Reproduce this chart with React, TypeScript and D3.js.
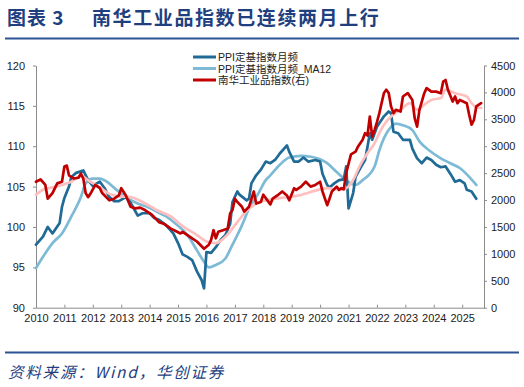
import React, { useEffect, useRef } from "react";
import * as d3 from "d3";

const width = 524;
const height = 387;
const margin = { top: 65.5, right: 40, bottom: 79.3, left: 36 };

// PPI 定基指数月频 (left axis)
const ppiSeries: [string, number][] = [
  ["2010-01", 97.8], ["2010-04", 98.8], ["2010-06", 100.0], ["2010-08", 99.2],
  ["2010-11", 100.5], ["2010-12", 102.5], ["2011-01", 103.6], ["2011-03", 105.0],
  ["2011-04", 106.2], ["2011-06", 106.7], ["2011-09", 107.0], ["2011-11", 105.8],
  ["2012-01", 105.1], ["2012-04", 105.6], ["2012-06", 104.8], ["2012-08", 103.7],
  ["2012-10", 103.2], ["2012-12", 103.2], ["2013-03", 103.7], ["2013-05", 103.0],
  ["2013-08", 101.4], ["2013-10", 101.7], ["2014-01", 101.7], ["2014-03", 101.1],
  ["2014-05", 100.9], ["2014-08", 100.2], ["2014-11", 99.2], ["2015-01", 98.0],
  ["2015-03", 96.6], ["2015-05", 96.3], ["2015-07", 95.9], ["2015-09", 94.5],
  ["2015-11", 93.4], ["2015-12", 92.4], ["2016-01", 96.9], ["2016-03", 96.8],
  ["2016-05", 97.5], ["2016-07", 98.4], ["2016-09", 99.0], ["2016-11", 100.4],
  ["2016-12", 103.1], ["2017-02", 104.4], ["2017-03", 104.0], ["2017-06", 103.3],
  ["2017-07", 103.5], ["2017-08", 105.4], ["2017-10", 106.4], ["2017-12", 107.1],
  ["2018-02", 108.1], ["2018-04", 107.9], ["2018-06", 108.3], ["2018-08", 109.1],
  ["2018-11", 110.1], ["2018-12", 109.3], ["2019-02", 108.1], ["2019-04", 108.1],
  ["2019-06", 108.6], ["2019-08", 108.1], ["2019-11", 108.3], ["2020-01", 108.1],
  ["2020-02", 106.6], ["2020-04", 105.2], ["2020-05", 104.9], ["2020-07", 105.4],
  ["2020-09", 105.8], ["2020-11", 105.9], ["2020-12", 107.5], ["2021-01", 102.3],
  ["2021-03", 104.2], ["2021-04", 106.2], ["2021-06", 107.3], ["2021-08", 108.3],
  ["2021-09", 109.9], ["2021-10", 111.6], ["2021-11", 110.8], ["2022-01", 112.4],
  ["2022-04", 113.7], ["2022-06", 114.3], ["2022-07", 114.1], ["2022-08", 111.8],
  ["2022-10", 111.6], ["2022-12", 110.8], ["2023-03", 110.8], ["2023-04", 109.7],
  ["2023-06", 108.5], ["2023-08", 107.9], ["2023-10", 108.6], ["2023-12", 108.3],
  ["2024-02", 107.7], ["2024-04", 107.4], ["2024-06", 107.5], ["2024-08", 106.6],
  ["2024-10", 105.6], ["2024-12", 105.8], ["2025-02", 105.4], ["2025-03", 104.6],
  ["2025-05", 104.4], ["2025-07", 103.5],
];

// PPI 定基指数月频_MA12 (left axis)
const ppiMa12Series: [string, number][] = [
  ["2010-01", 94.9], ["2010-04", 96.3], ["2010-08", 98.0], ["2010-12", 99.2],
  ["2011-04", 101.3], ["2011-08", 103.7], ["2011-10", 105.4], ["2012-01", 106.0],
  ["2012-04", 106.0], ["2012-07", 105.6], ["2012-11", 104.6], ["2013-03", 103.7],
  ["2013-08", 102.9], ["2013-12", 102.5], ["2014-04", 101.9], ["2014-08", 101.3],
  ["2014-12", 100.4], ["2015-05", 99.0], ["2015-09", 97.1], ["2015-12", 95.7],
  ["2016-02", 95.0], ["2016-05", 95.3], ["2016-09", 96.1], ["2016-12", 97.8],
  ["2017-04", 100.2], ["2017-07", 102.3], ["2017-11", 104.2], ["2018-02", 105.8],
  ["2018-04", 106.4], ["2018-08", 107.7], ["2018-12", 108.6], ["2019-05", 108.8],
  ["2019-09", 108.7], ["2020-01", 108.4], ["2020-04", 107.9], ["2020-08", 106.8],
  ["2020-12", 105.8], ["2021-04", 105.2], ["2021-07", 105.8], ["2021-12", 107.5],
  ["2022-02", 109.5], ["2022-04", 111.0], ["2022-07", 112.4], ["2022-09", 112.8],
  ["2022-12", 112.6], ["2023-04", 112.0], ["2023-07", 110.6], ["2023-11", 109.5],
  ["2024-04", 108.5], ["2024-08", 107.9], ["2024-12", 107.3], ["2025-04", 106.2],
  ["2025-07", 105.2],
];

// 南华工业品指数 (right axis)
const nanhuaSeries: [string, number][] = [
  ["2010-01", 2340], ["2010-03", 2385], ["2010-05", 2280], ["2010-06", 2025],
  ["2010-08", 2130], ["2010-10", 2310], ["2010-12", 2340], ["2011-01", 2625],
  ["2011-02", 2640], ["2011-03", 2460], ["2011-05", 2400], ["2011-07", 2415],
  ["2011-08", 2490], ["2011-09", 2400], ["2011-10", 2130], ["2011-11", 2055],
  ["2011-12", 2115], ["2012-02", 2280], ["2012-04", 2220], ["2012-05", 2130],
  ["2012-08", 1995], ["2012-10", 2025], ["2012-12", 2085], ["2013-01", 2220],
  ["2013-03", 2085], ["2013-05", 1875], ["2013-07", 1845], ["2013-09", 1860],
  ["2013-11", 1815], ["2014-02", 1725], ["2014-05", 1590], ["2014-07", 1560],
  ["2014-10", 1470], ["2014-12", 1425], ["2015-02", 1380], ["2015-03", 1410],
  ["2015-05", 1350], ["2015-07", 1290], ["2015-09", 1230], ["2015-12", 1095],
  ["2016-02", 1170], ["2016-03", 1260], ["2016-04", 1440], ["2016-05", 1290],
  ["2016-06", 1410], ["2016-08", 1440], ["2016-10", 1470], ["2016-11", 1755],
  ["2016-12", 1815], ["2017-01", 2025], ["2017-02", 1965], ["2017-04", 1875],
  ["2017-05", 1785], ["2017-07", 1875], ["2017-09", 2160], ["2017-10", 1935],
  ["2017-12", 1965], ["2018-01", 2100], ["2018-04", 1920], ["2018-05", 2025],
  ["2018-07", 2085], ["2018-09", 2160], ["2018-11", 2085], ["2018-12", 1995],
  ["2019-02", 2220], ["2019-03", 2190], ["2019-05", 2250], ["2019-07", 2340],
  ["2019-09", 2250], ["2019-11", 2280], ["2020-01", 2340], ["2020-02", 2160],
  ["2020-04", 1905], ["2020-05", 2025], ["2020-06", 2160], ["2020-08", 2250],
  ["2020-09", 2190], ["2020-10", 2220], ["2020-11", 2200], ["2020-12", 2500],
  ["2021-02", 2850], ["2021-04", 2900], ["2021-05", 2990], ["2021-07", 3120],
  ["2021-08", 3243], ["2021-09", 3200], ["2021-10", 3550], ["2021-11", 3180],
  ["2021-12", 3300], ["2022-01", 3450], ["2022-02", 3615], ["2022-03", 3800],
  ["2022-04", 3990], ["2022-05", 4050], ["2022-06", 3990], ["2022-07", 3740],
  ["2022-08", 3615], ["2022-09", 3676], ["2022-11", 3645], ["2022-12", 3924],
  ["2023-02", 3987], ["2023-04", 3860], ["2023-05", 3520], ["2023-06", 3365],
  ["2023-07", 3675], ["2023-09", 3985], ["2023-10", 4080], ["2023-12", 4015],
  ["2024-02", 4015], ["2024-04", 3985], ["2024-05", 4200], ["2024-06", 4230],
  ["2024-07", 4050], ["2024-09", 3830], ["2024-10", 3925], ["2024-11", 3800],
  ["2024-12", 3860], ["2025-03", 3800], ["2025-04", 3580], ["2025-05", 3400],
  ["2025-06", 3490], ["2025-07", 3740], ["2025-09", 3800],
];

// 南华工业品指数 moving average (right axis, not in legend)
const nanhuaMaSeries: [string, number][] = [
  ["2010-01", 2100], ["2010-04", 2190], ["2010-08", 2235], ["2010-12", 2280],
  ["2011-04", 2340], ["2011-08", 2445], ["2011-12", 2340], ["2012-04", 2235],
  ["2012-08", 2115], ["2012-12", 2070], ["2013-05", 2055], ["2013-10", 1965],
  ["2014-04", 1815], ["2014-10", 1695], ["2015-03", 1515], ["2015-09", 1350],
  ["2016-01", 1230], ["2016-05", 1200], ["2016-09", 1320], ["2017-02", 1590],
  ["2017-06", 1800], ["2017-10", 1935], ["2018-02", 1995], ["2018-08", 2035],
  ["2019-05", 2095], ["2019-11", 2175], ["2020-04", 2220], ["2020-09", 2190],
  ["2020-12", 2220], ["2021-03", 2375], ["2021-06", 2655], ["2021-09", 2870],
  ["2021-12", 3055], ["2022-02", 3245], ["2022-04", 3400], ["2022-07", 3552],
  ["2022-11", 3676], ["2023-03", 3800], ["2023-06", 3675], ["2023-09", 3770],
  ["2023-12", 3860], ["2024-04", 3895], ["2024-06", 4050], ["2024-10", 3985],
  ["2025-03", 3925], ["2025-05", 3800], ["2025-07", 3725], ["2025-09", 3710],
];

const leftTicks = [90, 95, 100, 105, 110, 115, 120];
const rightTicks = [0, 500, 1000, 1500, 2000, 2500, 3000, 3500, 4000, 4500];
const yearTicks = d3.range(2010, 2026);

const legendItems = [
  { label: "PPI定基指数月频", color: "#1f6b96" },
  { label: "PPI定基指数月频_MA12", color: "#7dbad6" },
  { label: "南华工业品指数(右)", color: "#c00000" },
];

const parseMonth = d3.timeParse("%Y-%m");
const axisFont = "'Liberation Sans', Arial, sans-serif";
const cjkFont = "'Liberation Sans', 'Noto Sans CJK SC', sans-serif";

export default function App() {
  const xAxisRef = useRef<SVGGElement>(null);
  const yLeftRef = useRef<SVGGElement>(null);
  const yRightRef = useRef<SVGGElement>(null);

  const x = d3
    .scaleTime()
    .domain([new Date(2010, 0, 1), new Date(2025, 9, 8)])
    .range([margin.left, width - margin.right]);
  const yLeft = d3
    .scaleLinear()
    .domain([90, 120])
    .range([height - margin.bottom, margin.top]);
  const yRight = d3
    .scaleLinear()
    .domain([0, 4500])
    .range([height - margin.bottom, margin.top]);

  const leftLine = d3
    .line<[string, number]>()
    .x((d) => x(parseMonth(d[0]) as Date))
    .y((d) => yLeft(d[1]));
  const rightLine = d3
    .line<[string, number]>()
    .x((d) => x(parseMonth(d[0]) as Date))
    .y((d) => yRight(d[1]));

  useEffect(() => {
    const style = (g: d3.Selection<SVGGElement, unknown, null, undefined>) => {
      g.select(".domain").attr("stroke", "#8c8c8c");
      g.selectAll(".tick line").attr("stroke", "#8c8c8c");
      g.selectAll(".tick text")
        .attr("fill", "#222")
        .style("font-family", axisFont)
        .style("font-size", "11px");
    };

    d3.select(xAxisRef.current!)
      .call(
        d3
          .axisBottom(x)
          .tickValues(yearTicks.map((yr) => new Date(yr, 0, 1)))
          .tickFormat(d3.timeFormat("%Y") as any)
          .tickSizeInner(-3)
          .tickSizeOuter(0)
          .tickPadding(7)
      )
      .call(style);

    d3.select(yLeftRef.current!)
      .call(
        d3
          .axisLeft(yLeft)
          .tickValues(leftTicks)
          .tickFormat(d3.format("d"))
          .tickSizeInner(3)
          .tickSizeOuter(0)
          .tickPadding(8)
      )
      .call(style);

    d3.select(yRightRef.current!)
      .call(
        d3
          .axisRight(yRight)
          .tickValues(rightTicks)
          .tickFormat(d3.format("d"))
          .tickSizeInner(3)
          .tickSizeOuter(0)
          .tickPadding(4)
      )
      .call(style);
  }, []);

  return (
    <svg
      width={width}
      height={height}
      style={{ position: "absolute", left: 0, top: 0, background: "#fff" }}
    >
      <text
        x={7}
        y={25}
        fill="#1f3f7f"
        fontWeight={700}
        fontSize={19}
        fontFamily="'Noto Sans CJK SC', sans-serif"
        letterSpacing={1}
      >
        图表 3
      </text>
      <text
        x={92}
        y={25}
        fill="#1f3f7f"
        fontWeight={700}
        fontSize={19}
        fontFamily="'Noto Sans CJK SC', sans-serif"
        letterSpacing={1.6}
      >
        南华工业品指数已连续两月上行
      </text>
      <line x1={5} x2={519} y1={38.5} y2={38.5} stroke="#2c5394" strokeWidth={2} />

      <g ref={yLeftRef} transform={`translate(${margin.left},0)`} />
      <g ref={yRightRef} transform={`translate(${width - margin.right},0)`} />
      <g ref={xAxisRef} transform={`translate(0,${height - margin.bottom})`} />

      <g fill="none" strokeWidth={2.7} strokeLinejoin="round" strokeLinecap="round">
        <path d={leftLine.curve(d3.curveMonotoneX)(ppiMa12Series) ?? ""} stroke="#7dbad6" />
        <path d={leftLine.curve(d3.curveLinear)(ppiSeries) ?? ""} stroke="#1f6b96" />
        <path d={rightLine.curve(d3.curveMonotoneX)(nanhuaMaSeries) ?? ""} stroke="#ffbfbf" />
        <path d={rightLine.curve(d3.curveLinear)(nanhuaSeries) ?? ""} stroke="#c00000" />
      </g>

      <g fontFamily={cjkFont} fontSize={10.5} fill="#222">
        {legendItems.map((item, i) => (
          <g key={item.label} transform={`translate(193,${57 + i * 11.5})`}>
            <line x1={0} x2={23} y1={0} y2={0} stroke={item.color} strokeWidth={3} />
            <text x={25} y={4}>
              {item.label}
            </text>
          </g>
        ))}
      </g>

      <line x1={5} x2={519} y1={352.5} y2={352.5} stroke="#2c5394" strokeWidth={2} />
      <text
        x={8}
        y={378}
        fill="#1f3f7f"
        fontSize={15.5}
        fontStyle="italic"
        fontFamily="'Noto Sans CJK SC', serif"
        letterSpacing={1.8}
      >
        资料来源：Wind，华创证券
      </text>
    </svg>
  );
}
